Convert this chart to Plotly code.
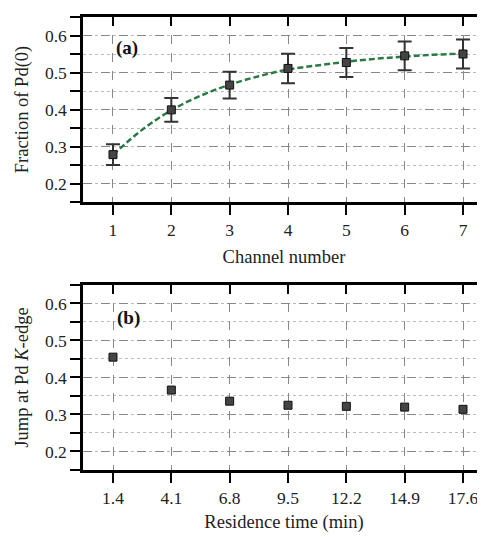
import plotly.graph_objects as go

# Panel (a)
channels = [1, 2, 3, 4, 5, 6, 7]
fraction_pd0 = [0.278, 0.399, 0.466, 0.511, 0.527, 0.545, 0.550]
fraction_err = [0.028, 0.032, 0.036, 0.040, 0.039, 0.039, 0.039]
fit_x = [1, 1.5, 2, 2.5, 3, 3.5, 4, 4.5, 5, 5.5, 6, 6.5, 7]
fit_y = [0.278, 0.345, 0.398, 0.437, 0.467, 0.490, 0.508, 0.519, 0.529, 0.537, 0.543, 0.548, 0.551]

# Panel (b)
residence_time = [1.4, 4.1, 6.8, 9.5, 12.2, 14.9, 17.6]
jump_pd_k = [0.455, 0.366, 0.336, 0.325, 0.322, 0.320, 0.314]
res_ticklabels = ["1.4", "4.1", "6.8", "9.5", "12.2", "14.9", "17.6"]

y_major = [0.2, 0.3, 0.4, 0.5, 0.6]

FONT = "Liberation Serif"
TXT = "#222"
TICK_SIZE = 17.5
TITLE_SIZE = 18.5

fig = go.Figure()

fig.add_trace(go.Scatter(x=fit_x, y=fit_y, mode="lines", line=dict(color="#2a7a45", width=2.5, dash="6px,3px", shape="spline"),
                         xaxis="x", yaxis="y", showlegend=False, hoverinfo="skip"))
fig.add_trace(go.Scatter(x=channels, y=fraction_pd0, mode="markers",
                         marker=dict(symbol="square", size=8, color="#444", line=dict(color="#111", width=1)),
                         error_y=dict(type="data", array=fraction_err, color="#333", thickness=2, width=7),
                         xaxis="x", yaxis="y", showlegend=False))
fig.add_trace(go.Scatter(x=residence_time, y=jump_pd_k, mode="markers",
                         marker=dict(symbol="square", size=8, color="#444", line=dict(color="#111", width=1)),
                         xaxis="x2", yaxis="y2", showlegend=False))

dom_a = [0.5916, 1.0]
dom_b = [0.0, 0.4084]

common_x = dict(showline=True, linewidth=2.5, linecolor="black", ticks="outside", ticklen=10, tickwidth=2,
                tickcolor="black", showgrid=True, gridcolor="#888", griddash="dash", gridwidth=1,
                zeroline=False, automargin=False, tickfont=dict(family=FONT, size=TICK_SIZE, color=TXT))
common_y = dict(showline=True, linewidth=2.5, linecolor="black", ticks="outside", ticklen=10, tickwidth=2,
                tickcolor="black", showgrid=True, gridcolor="#888", griddash="dash", gridwidth=1,
                zeroline=False, automargin=False, range=[0.15, 0.65], tickvals=y_major, tickformat=".1f",
                tickfont=dict(family=FONT, size=TICK_SIZE, color=TXT),
                minor=dict(dtick=0.05, tick0=0.05, ticks="outside", ticklen=10, tickwidth=2, tickcolor="black",
                           showgrid=True, gridcolor="#bbb", griddash="dot", gridwidth=1))

range_a = [0.486, 7.377]
range_b = [0.011, 18.618]

fig.update_layout(
    width=477, height=529,
    margin=dict(l=75, r=0, t=9, b=67),
    paper_bgcolor="white", plot_bgcolor="white",
    font=dict(family=FONT, size=16, color=TXT),
    xaxis=dict(common_x, domain=[0, 1], anchor="y", range=range_a, tickvals=channels,
               title=dict(text="Channel number", font=dict(family=FONT, size=TITLE_SIZE, color=TXT), standoff=12)),
    yaxis=dict(common_y, domain=dom_a, anchor="x",
               title=dict(text="Fraction of Pd(0)", font=dict(family=FONT, size=TITLE_SIZE, color=TXT), standoff=12)),
    xaxis2=dict(common_x, domain=[0, 1], anchor="y2", range=range_b, tickvals=residence_time,
                ticktext=res_ticklabels,
                title=dict(text="Residence time (min)", font=dict(family=FONT, size=TITLE_SIZE, color=TXT), standoff=9)),
    yaxis2=dict(common_y, domain=dom_b, anchor="x2",
                title=dict(text="Jump at Pd <i>K</i>-edge", font=dict(family=FONT, size=TITLE_SIZE, color=TXT), standoff=12)),
    xaxis3=dict(overlaying="x", side="top", anchor="y", range=range_a, tickvals=channels, ticks="inside",
                ticklen=9, tickwidth=2, tickcolor="black", showticklabels=False, showline=True, linewidth=2.5,
                linecolor="black", showgrid=False, zeroline=False, automargin=False),
    xaxis4=dict(overlaying="x2", side="top", anchor="y2", range=range_b, tickvals=residence_time, ticks="inside",
                ticklen=9, tickwidth=2, tickcolor="black", showticklabels=False, showline=True, linewidth=2.5,
                linecolor="black", showgrid=False, zeroline=False, automargin=False),
    yaxis3=dict(overlaying="y", side="right", anchor="x", range=[0.15, 0.65], tickvals=y_major, ticks="inside",
                ticklen=5, tickwidth=2, tickcolor="black", showticklabels=False, showline=False,
                showgrid=False, zeroline=False, automargin=False),
    yaxis4=dict(overlaying="y2", side="right", anchor="x2", range=[0.15, 0.65], tickvals=y_major, ticks="inside",
                ticklen=5, tickwidth=2, tickcolor="black", showticklabels=False, showline=False,
                showgrid=False, zeroline=False, automargin=False),
    annotations=[
        dict(text="<b>(a)</b>", x=1.02, y=0.565, xref="x", yref="y", xanchor="left", yanchor="middle",
             showarrow=False, font=dict(family=FONT, size=19, color="#111")),
        dict(text="<b>(b)</b>", x=1.4 + 1.5 / 21.6, y=0.562, xref="x2", yref="y2", xanchor="left", yanchor="middle",
             showarrow=False, font=dict(family=FONT, size=19, color="#111")),
    ],
)

fig.add_trace(go.Scatter(x=[None], y=[None], xaxis="x3", yaxis="y3", showlegend=False, hoverinfo="skip"))
fig.add_trace(go.Scatter(x=[None], y=[None], xaxis="x4", yaxis="y4", showlegend=False, hoverinfo="skip"))

fig.write_html("out.html")
